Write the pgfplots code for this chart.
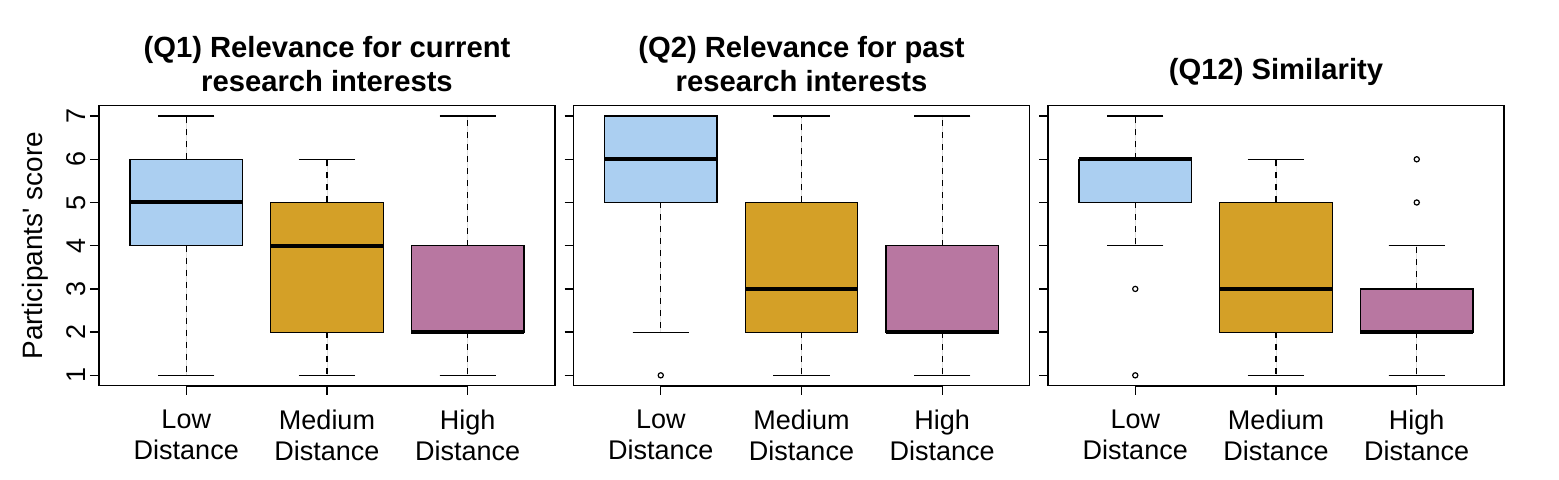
\documentclass[border=0pt]{standalone}
\usepackage{fontspec}
\setmainfont{Liberation Sans}
\usepackage{pgfplots}
\pgfplotsset{compat=1.18}
\usepgfplotslibrary{statistics}
\definecolor{lowc}{HTML}{ABCFF1}
\definecolor{medc}{HTML}{D4A027}
\definecolor{highc}{HTML}{B877A1}
\pgfplotsset{
  mybox/.style={
    black, line width=0.6pt, solid,
    mark=o, mark size=1.3pt, mark options={solid, black, line width=0.6pt},
    boxplot/draw direction=y,
    boxplot/box extend=0.8,
    boxplot/whisker extend=0.4,
    boxplot/draw/median/.code={
      \draw[line width=2pt, black] (boxplot box cs:\pgfplotsboxplotvalue{median},0) -- (boxplot box cs:\pgfplotsboxplotvalue{median},1);
    },
    boxplot/draw/lower whisker/.code={
      \draw[black, line width=0.6pt, dash pattern=on 3pt off 3pt] (boxplot box cs:\pgfplotsboxplotvalue{lower quartile},0.5) -- (boxplot box cs:\pgfplotsboxplotvalue{lower whisker},0.5);
      \draw[black, line width=0.6pt, solid] (boxplot whisker cs:\pgfplotsboxplotvalue{lower whisker},0) -- (boxplot whisker cs:\pgfplotsboxplotvalue{lower whisker},1);
    },
    boxplot/draw/upper whisker/.code={
      \draw[black, line width=0.6pt, dash pattern=on 3pt off 3pt] (boxplot box cs:\pgfplotsboxplotvalue{upper quartile},0.5) -- (boxplot box cs:\pgfplotsboxplotvalue{upper whisker},0.5);
      \draw[black, line width=0.6pt, solid] (boxplot whisker cs:\pgfplotsboxplotvalue{upper whisker},0) -- (boxplot whisker cs:\pgfplotsboxplotvalue{upper whisker},1);
    },
  },
  panel/.style={
    anchor=south west,
    scale only axis, width=228pt, height=140pt,
    xmin=0.38, xmax=3.62, ymin=0.76, ymax=7.24,
    xtick={1,2,3},
    xticklabels={{Low\\Distance},{Medium\\Distance},{High\\Distance}},
    xticklabel style={align=center, font=\fontsize{13.5}{15.5}\selectfont, inner sep=0pt, yshift=-7.5pt},
    ytick={1,2,3,4,5,6,7},
    yticklabel style={rotate=90, anchor=south, inner sep=2pt, font=\fontsize{13.5}{15.5}\selectfont},
    /pgf/number format/assume math mode=true,
    tick align=outside, major tick length=4.5pt,
    xtick pos=bottom, ytick pos=left,
    axis line style={line width=0.7pt, black},
    tick style={line width=0.7pt, black},
    clip=false,
    title style={align=center, font=\bfseries\fontsize{14.6}{17}\selectfont, at={(axis description cs:0.5,1)}, anchor=center, yshift=15pt},
  },
}
\begin{document}
\begin{tikzpicture}
\useasboundingbox (0,0) rectangle (779.5pt,239.5pt);
% Panel 1
\begin{axis}[panel, at={(49.5pt,46.65pt)},
  title={(Q1) Relevance for current\\research interests},
  ylabel={Participants\textquotesingle\ score},
  ylabel style={at={(axis description cs:-0.14,0.5)}, anchor=center, font=\fontsize{14}{16}\selectfont},
]
\addplot[forget plot, black, line width=0.7pt] coordinates {(1,0.735) (3,0.735)};
\addplot[mybox, fill=lowc, boxplot prepared={draw position=1, lower whisker=1, lower quartile=4, median=5, upper quartile=6, upper whisker=7}] coordinates {};
\addplot[mybox, fill=medc, boxplot prepared={draw position=2, lower whisker=1, lower quartile=2, median=4, upper quartile=5, upper whisker=6}] coordinates {};
\addplot[mybox, fill=highc, boxplot prepared={draw position=3, lower whisker=1, lower quartile=2, median=2, upper quartile=4, upper whisker=7}] coordinates {};
\end{axis}
% Panel 2
\begin{axis}[panel, at={(286.75pt,46.65pt)},
  title={(Q2) Relevance for past\\research interests},
  yticklabels={},
]
\addplot[forget plot, black, line width=0.7pt] coordinates {(1,0.735) (3,0.735)};
\addplot[mybox, fill=lowc, boxplot prepared={draw position=1, lower whisker=2, lower quartile=5, median=6, upper quartile=7, upper whisker=7}] table[row sep=\\, y index=0] {v\\ 1\\};
\addplot[mybox, fill=medc, boxplot prepared={draw position=2, lower whisker=1, lower quartile=2, median=3, upper quartile=5, upper whisker=7}] coordinates {};
\addplot[mybox, fill=highc, boxplot prepared={draw position=3, lower whisker=1, lower quartile=2, median=2, upper quartile=4, upper whisker=7}] coordinates {};
\end{axis}
% Panel 3
\begin{axis}[panel, at={(524pt,46.65pt)},
  title={(Q12) Similarity},
  title style={yshift=-4pt},
  yticklabels={},
]
\addplot[forget plot, black, line width=0.7pt] coordinates {(1,0.735) (3,0.735)};
\addplot[mybox, fill=lowc, boxplot prepared={draw position=1, lower whisker=4, lower quartile=5, median=6, upper quartile=6, upper whisker=7}] table[row sep=\\, y index=0] {v\\ 3\\ 1\\};
\addplot[mybox, fill=medc, boxplot prepared={draw position=2, lower whisker=1, lower quartile=2, median=3, upper quartile=5, upper whisker=6}] coordinates {};
\addplot[mybox, fill=highc, boxplot prepared={draw position=3, lower whisker=1, lower quartile=2, median=2, upper quartile=3, upper whisker=4}] table[row sep=\\, y index=0] {v\\ 5\\ 6\\};
\end{axis}
\end{tikzpicture}
\end{document}
